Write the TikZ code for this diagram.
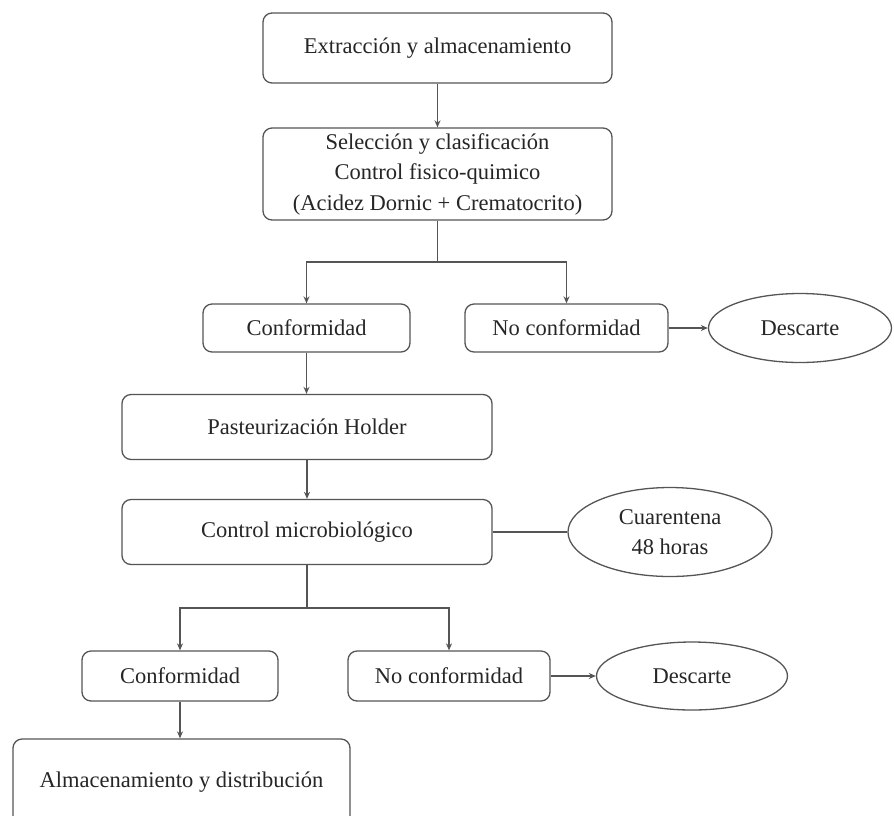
\documentclass[tikz,border=0pt]{standalone}
\usepackage{fontspec}
\setmainfont{Liberation Serif}
\usetikzlibrary{arrows.meta,shapes.geometric}
\definecolor{linec}{HTML}{555555}
\definecolor{textc}{HTML}{262626}
\begin{document}
\begin{tikzpicture}[x=1pt,y=-1pt,
  txt/.style={text=textc,font=\fontsize{22.5}{30.5}\selectfont,align=center,inner sep=0pt},
  box/.style={txt,draw=linec,line width=1.3pt,rounded corners=9pt},
  oval/.style={txt,draw=linec,line width=1.3pt,ellipse},
  ln/.style={draw=linec,line width=1.3pt},
  arr/.style={ln,-{Stealth[length=7pt,width=6pt]}}]
\useasboundingbox (0,0) rectangle (894,815);
\fill[white] (0,0) rectangle (894,815);

\node[box,minimum width=349,minimum height=70] (b1) at (437.5,48) {Extracción y almacenamiento};
\node[box,minimum width=349,minimum height=92] (b2) at (437.5,174) {Selección y clasificación\\Control fisico-quimico\\(Acidez Dornic + Crematocrito)};
\node[box,minimum width=207,minimum height=48] (c1) at (306.5,328) {Conformidad};
\node[box,minimum width=203,minimum height=48] (n1) at (566.5,328) {No conformidad};
\node[oval,minimum width=183,minimum height=69] (d1) at (800,328) {Descarte};
\node[box,minimum width=370,minimum height=65] (p) at (307,427) {Pasteurización Holder};
\node[box,minimum width=370,minimum height=65] (m) at (307,532) {Control microbiológico};
\node[oval,minimum width=204,minimum height=89] (q) at (670,532) {Cuarentena\\48 horas};
\node[box,minimum width=196,minimum height=50] (c2) at (180,676) {Conformidad};
\node[box,minimum width=202,minimum height=50] (n2) at (449,676) {No conformidad};
\node[oval,minimum width=191,minimum height=68] (d2) at (692,676) {Descarte};
\node[box,minimum width=337,minimum height=87] (a) at (181.5,782.5) {Almacenamiento y distribución};

\coordinate (j1) at (437.5,262);
\coordinate (j2) at (307,608);

\draw[arr] (b1) -- (b2);
\draw[ln] (b2.south) -- (j1);
\draw[arr] (j1) -| (c1.north);
\draw[arr] (j1) -| (n1.north);
\draw[arr] (n1) -- (d1);
\draw[arr] (c1.south) -- (c1.south |- p.north);
\draw[arr] (p) -- (m);
\draw[ln] (m.east) -- (q.west);
\draw[ln] (m.south) -- (j2);
\draw[arr] (j2) -| (c2.north);
\draw[arr] (j2) -| (n2.north);
\draw[arr] (n2) -- (d2);
\draw[arr] (c2.south) -- (c2.south |- a.north);
\end{tikzpicture}
\end{document}
